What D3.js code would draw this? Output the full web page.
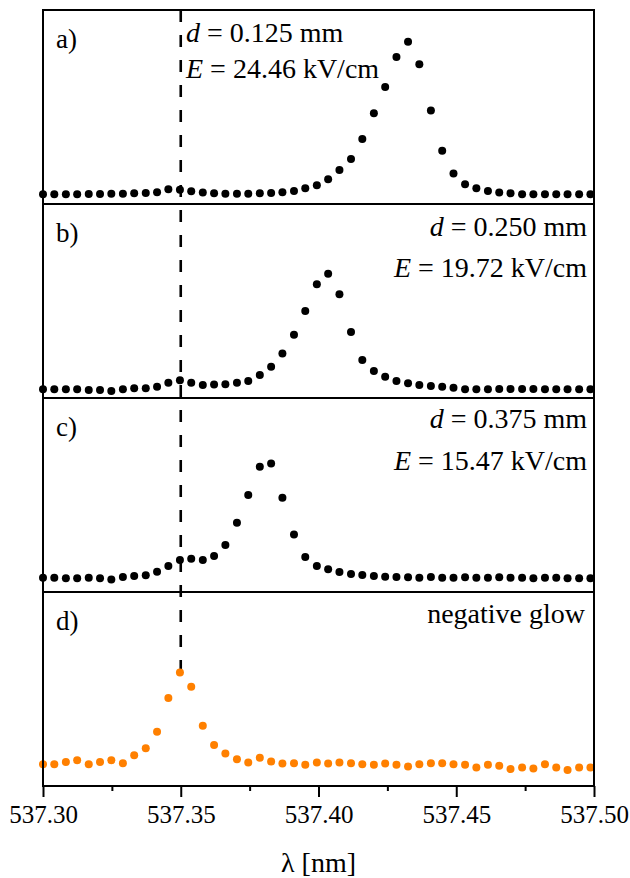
<!DOCTYPE html>
<html>
<head>
<meta charset="utf-8">
<script src="https://cdn.jsdelivr.net/npm/d3@7"></script>
<style>
  body { margin: 0; background: #fff; }
</style>
</head>
<body>
<div id="chart"></div>
<script>
// wavelength grid of the spectrometer (nm)
var wavelength = [537.3000, 537.3041, 537.3083, 537.3124, 537.3166, 537.3207, 537.3248, 537.3290, 537.3331, 537.3373,
                  537.3414, 537.3455, 537.3497, 537.3538, 537.3580, 537.3621, 537.3662, 537.3704, 537.3745, 537.3787,
                  537.3828, 537.3869, 537.3911, 537.3952, 537.3994, 537.4035, 537.4076, 537.4118, 537.4159, 537.4201,
                  537.4242, 537.4283, 537.4325, 537.4366, 537.4408, 537.4449, 537.4490, 537.4532, 537.4573, 537.4615,
                  537.4656, 537.4697, 537.4739, 537.4780, 537.4822, 537.4863, 537.4904, 537.4946, 537.4987];

// normalised intensities, one array per panel
var intensityA = [0.050, 0.050, 0.050, 0.050, 0.052, 0.052, 0.053, 0.053, 0.055, 0.057,
                  0.061, 0.076, 0.073, 0.066, 0.059, 0.055, 0.053, 0.053, 0.053, 0.055,
                  0.057, 0.061, 0.067, 0.081, 0.097, 0.128, 0.175, 0.232, 0.335, 0.468,
                  0.603, 0.758, 0.836, 0.720, 0.482, 0.275, 0.157, 0.102, 0.081, 0.067,
                  0.059, 0.055, 0.050, 0.050, 0.050, 0.050, 0.050, 0.050, 0.050];
var intensityB = [0.045, 0.045, 0.045, 0.045, 0.041, 0.041, 0.036, 0.045, 0.050, 0.050,
                  0.058, 0.079, 0.091, 0.079, 0.067, 0.069, 0.071, 0.079, 0.088, 0.119,
                  0.161, 0.230, 0.326, 0.448, 0.586, 0.640, 0.535, 0.340, 0.196, 0.139,
                  0.110, 0.088, 0.076, 0.067, 0.062, 0.058, 0.053, 0.045, 0.045, 0.045,
                  0.046, 0.046, 0.046, 0.046, 0.045, 0.045, 0.045, 0.045, 0.045];
var intensityC = [0.074, 0.074, 0.071, 0.071, 0.074, 0.071, 0.065, 0.077, 0.082, 0.086,
                  0.105, 0.134, 0.165, 0.172, 0.165, 0.186, 0.242, 0.357, 0.500, 0.646,
                  0.663, 0.486, 0.297, 0.180, 0.134, 0.117, 0.103, 0.093, 0.088, 0.082,
                  0.079, 0.077, 0.076, 0.074, 0.077, 0.074, 0.074, 0.076, 0.074, 0.074,
                  0.076, 0.074, 0.074, 0.071, 0.074, 0.074, 0.071, 0.071, 0.071];
var intensityD = [0.112, 0.112, 0.124, 0.133, 0.112, 0.124, 0.133, 0.117, 0.158, 0.194,
                  0.279, 0.453, 0.585, 0.512, 0.311, 0.211, 0.167, 0.138, 0.121, 0.146,
                  0.126, 0.116, 0.117, 0.109, 0.121, 0.116, 0.121, 0.117, 0.112, 0.109,
                  0.116, 0.109, 0.101, 0.112, 0.117, 0.117, 0.112, 0.109, 0.095, 0.109,
                  0.104, 0.087, 0.095, 0.090, 0.112, 0.095, 0.082, 0.095, 0.095];

var panelLabels = ["a)", "b)", "c)", "d)"];
var distances = ["0.125", "0.250", "0.375"];
var fields = ["24.46", "19.72", "15.47"];
var glowLabel = "negative glow";
var majorTicks = [537.30, 537.35, 537.40, 537.45, 537.50];
var minorTicks = [537.325, 537.375, 537.425, 537.475];
var xDomain = [537.30, 537.50];
var lineCenter = 537.35;

var width = 630;
var height = 878;
var plotLeft = 43;
var plotRight = 594;
var plotTop = 10;
var plotBottom = 786;
var panelHeight = (plotBottom - plotTop) / 4;
var dotRadius = 4;
var serif = "Liberation Serif";

var panels = [
  { values: intensityA, color: "#000" },
  { values: intensityB, color: "#000" },
  { values: intensityC, color: "#000" },
  { values: intensityD, color: "#ff8000" }
];

// where the d / E notes sit in each panel
var noteLayout = [
  { x: 186, anchor: "start", y1: 42, y2: 78 },
  { x: 587, anchor: "end", y1: 236, y2: 277 },
  { x: 587, anchor: "end", y1: 428, y2: 470 }
];

var svg = d3.select("#chart")
  .append("svg")
  .attr("width", width)
  .attr("height", height);

var x = d3.scaleLinear()
  .domain(xDomain)
  .range([plotLeft, plotRight]);

var yScales = panels.map(function(p, i) {
  var t = plotTop + i * panelHeight;
  return d3.scaleLinear().domain([0, 1]).range([t + panelHeight, t]);
});

// dashed line at the undisturbed line position, down to the glow peak
var peakD = d3.max(intensityD);
svg.append("line")
  .attr("x1", x(lineCenter))
  .attr("x2", x(lineCenter))
  .attr("y1", plotTop)
  .attr("y2", yScales[3](peakD))
  .attr("stroke", "#000")
  .attr("stroke-width", 2.6)
  .attr("stroke-dasharray", "12,13");

// dots
panels.forEach(function(p, i) {
  svg.append("g")
    .selectAll("circle")
    .data(p.values)
    .enter()
    .append("circle")
    .attr("cx", function(d, k) { return x(wavelength[k]); })
    .attr("cy", function(d) { return yScales[i](d); })
    .attr("r", dotRadius)
    .attr("fill", p.color);
});

// panel frames
panels.forEach(function(p, i) {
  svg.append("rect")
    .attr("x", plotLeft)
    .attr("y", plotTop + i * panelHeight)
    .attr("width", plotRight - plotLeft)
    .attr("height", panelHeight)
    .attr("fill", "none")
    .attr("stroke", "#000")
    .attr("stroke-width", 2);
});

// bottom axis, major + minor ticks
var xAxis = svg.append("g")
  .attr("transform", "translate(0," + plotBottom + ")")
  .call(d3.axisBottom(x)
    .tickValues(majorTicks)
    .tickSize(11)
    .tickPadding(8)
    .tickFormat(d3.format(".2f")));
xAxis.attr("font-family", null).attr("font-size", null);
xAxis.select(".domain").remove();
xAxis.selectAll("line").attr("stroke-width", 2);
xAxis.selectAll("text")
  .style("font-family", serif)
  .style("font-size", "25px");

var xMinor = svg.append("g")
  .attr("transform", "translate(0," + plotBottom + ")")
  .call(d3.axisBottom(x)
    .tickValues(minorTicks)
    .tickSize(5)
    .tickFormat(""));
xMinor.select(".domain").remove();
xMinor.selectAll("line").attr("stroke-width", 2);

svg.append("text")
  .attr("x", (plotLeft + plotRight) / 2)
  .attr("y", 872)
  .attr("text-anchor", "middle")
  .style("font-family", serif)
  .style("font-size", "28px")
  .text("λ [nm]");

// panel letters
svg.selectAll(".plabel")
  .data(panelLabels)
  .enter()
  .append("text")
  .attr("class", "plabel")
  .attr("x", 56)
  .attr("y", function(d, i) { return plotTop + i * panelHeight + 38; })
  .style("font-family", serif)
  .style("font-size", "27px")
  .text(function(d) { return d; });

// d and E notes
noteLayout.forEach(function(n, i) {
  var t1 = svg.append("text")
    .attr("x", n.x)
    .attr("y", n.y1)
    .attr("text-anchor", n.anchor)
    .style("font-family", serif)
    .style("font-size", "28px");
  t1.append("tspan").style("font-style", "italic").text("d");
  t1.append("tspan").text(" = " + distances[i] + " mm");

  var t2 = svg.append("text")
    .attr("x", n.x)
    .attr("y", n.y2)
    .attr("text-anchor", n.anchor)
    .style("font-family", serif)
    .style("font-size", "28px");
  t2.append("tspan").style("font-style", "italic").text("E");
  t2.append("tspan").text(" = " + fields[i] + " kV/cm");
});

svg.append("text")
  .attr("x", 585)
  .attr("y", 623)
  .attr("text-anchor", "end")
  .style("font-family", serif)
  .style("font-size", "28px")
  .text(glowLabel);
</script>
</body>
</html>
